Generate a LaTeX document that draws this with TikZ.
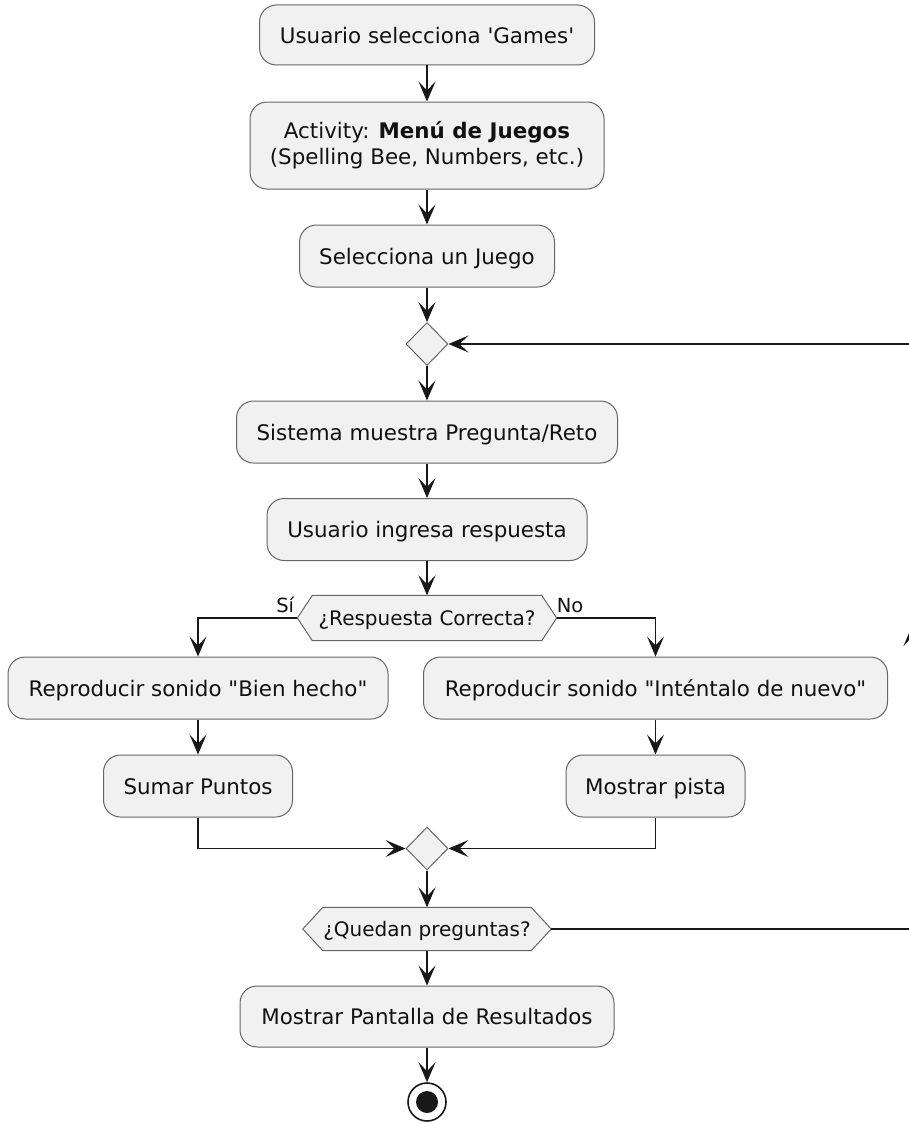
\documentclass[tikz,border=0pt]{standalone}
\usepackage{fontspec}
\setmainfont{DejaVu Sans}[Ligatures=TeXOff]
\usetikzlibrary{arrows.meta,shapes.geometric,calc}

\definecolor{boxfill}{HTML}{F1F1F1}
\definecolor{boxline}{HTML}{666666}
\definecolor{wire}{HTML}{181818}
\definecolor{inktext}{HTML}{111111}

\newcommand{\actfont}{\fontsize{21.4}{26}\selectfont}
\newcommand{\condfont}{\fontsize{20}{24}\selectfont}
\newcommand{\lblfont}{\fontsize{19.5}{23}\selectfont}

\begin{document}
\begin{tikzpicture}[x=1pt,y=-1pt,
  act/.style={draw=boxline, fill=boxfill, line width=1pt, rounded corners=17pt,
              inner sep=0pt, minimum height=62pt, font=\actfont, text=inktext, align=center},
  oneline/.style={text height=16.5pt, text depth=0pt},
  merge/.style={diamond, draw=boxline, fill=boxfill, line width=1pt, inner sep=0pt,
                minimum width=42pt, minimum height=43pt},
  cond/.style={inner sep=0pt, font=\condfont, text=inktext},
  hexa/.style={draw=boxline, fill=boxfill, line width=1pt},
  lbl/.style={inner sep=0pt, font=\lblfont, text=inktext},
  arr/.style={draw=wire, line width=1.6pt,
              -{Stealth[length=20pt,width=17pt,inset=9pt]}},
]
\clip (0,0) rectangle (909,1124);
\fill[white] (0,0) rectangle (909,1124);

% main column
\node[act, oneline, minimum width=335pt, minimum height=60pt] (s1) at (427,35) {Usuario selecciona 'Games'};
\node[act, minimum width=354pt, minimum height=87pt] (s2) at (427,145.5)
  {Activity: \textbf{Menú de Juegos}\\(Spelling Bee, Numbers, etc.)};
\node[act, oneline, minimum width=255pt] (s3) at (427,256) {Selecciona un Juego};
\node[merge] (m1) at (427,344) {};
\node[act, oneline, minimum width=381pt] (s5) at (427,432) {Sistema muestra Pregunta/Reto};
\node[act, oneline, minimum width=320pt] (s6) at (427,529.5) {Usuario ingresa respuesta};

% first condition (hexagon)
\node[cond, minimum width=259pt, minimum height=45pt] (q1) at (427,618) {};
\path[hexa] (q1.west) -- ([xshift=15pt]q1.north west) -- ([xshift=-15pt]q1.north east)
  -- (q1.east) -- ([xshift=-15pt]q1.south east) -- ([xshift=15pt]q1.south west) -- cycle;
\node[cond, text height=15pt, text depth=0pt] (q1t) at (q1) {¿Respuesta Correcta?};
\node[lbl, anchor=south east] (si) at ([xshift=-3pt,yshift=5pt]q1.west) {Sí};
\node[lbl, anchor=south west] (no) at ([yshift=5pt]q1.east) {No};

% branches
\node[act, oneline, minimum width=380pt] (l1) at (198,688) {Reproducir sonido "Bien hecho"};
\node[act, oneline, minimum width=189pt] (l2) at (198,786) {Sumar Puntos};
\node[act, oneline, minimum width=464pt] (r1) at (655.5,688) {Reproducir sonido "Inténtalo de nuevo"};
\node[act, oneline, minimum width=179pt] (r2) at (655.5,786) {Mostrar pista};
\node[merge] (m2) at (427,848.5) {};

% second condition (hexagon)
\node[cond, minimum width=248pt, minimum height=43pt] (q2) at (427,929) {};
\path[hexa] (q2.west) -- ([xshift=20pt]q2.north west) -- ([xshift=-20pt]q2.north east)
  -- (q2.east) -- ([xshift=-20pt]q2.south east) -- ([xshift=20pt]q2.south west) -- cycle;
\node[cond, text height=15pt, text depth=0pt] (q2t) at (q2) {¿Quedan preguntas?};

\node[act, oneline, minimum width=374pt, minimum height=61pt] (s7) at (427,1016.5) {Mostrar Pantalla de Resultados};
\node[circle, draw=wire, line width=1.6pt, fill=white, minimum size=38pt, inner sep=0pt] (stop) at (427,1102) {};
\node[circle, fill=wire, minimum size=22pt, inner sep=0pt] (stopdot) at (stop) {};

% loop-back route on the right
\coordinate (loopB) at (912,929);
\coordinate (loopM) at (912,626);
\coordinate (loopT) at (912,344);

% connectors
\draw[arr] (s1) -- (s2);
\draw[arr] (s2) -- (s3);
\draw[arr] (s3) -- (m1);
\draw[arr] (m1) -- (s5);
\draw[arr] (s5) -- (s6);
\draw[arr] (s6) -- (q1.north);
\draw[arr] (q1.west) -| (l1.north);
\draw[arr] (q1.east) -| (r1.north);
\draw[arr] (l1) -- (l2);
\draw[arr] (r1) -- (r2);
\draw[arr] (l2.south) |- (m2.west);
\draw[arr] (r2.south) |- (m2.east);
\draw[arr] (m2) -- (q2.north);
\draw[arr] (q2.south) -- (s7);
\draw[arr] (s7) -- (stop);
\draw[arr] (q2.east) -- (loopB) -- (loopM);
\draw[arr] (loopM) -- (loopT) -- (m1.east);
\end{tikzpicture}
\end{document}
